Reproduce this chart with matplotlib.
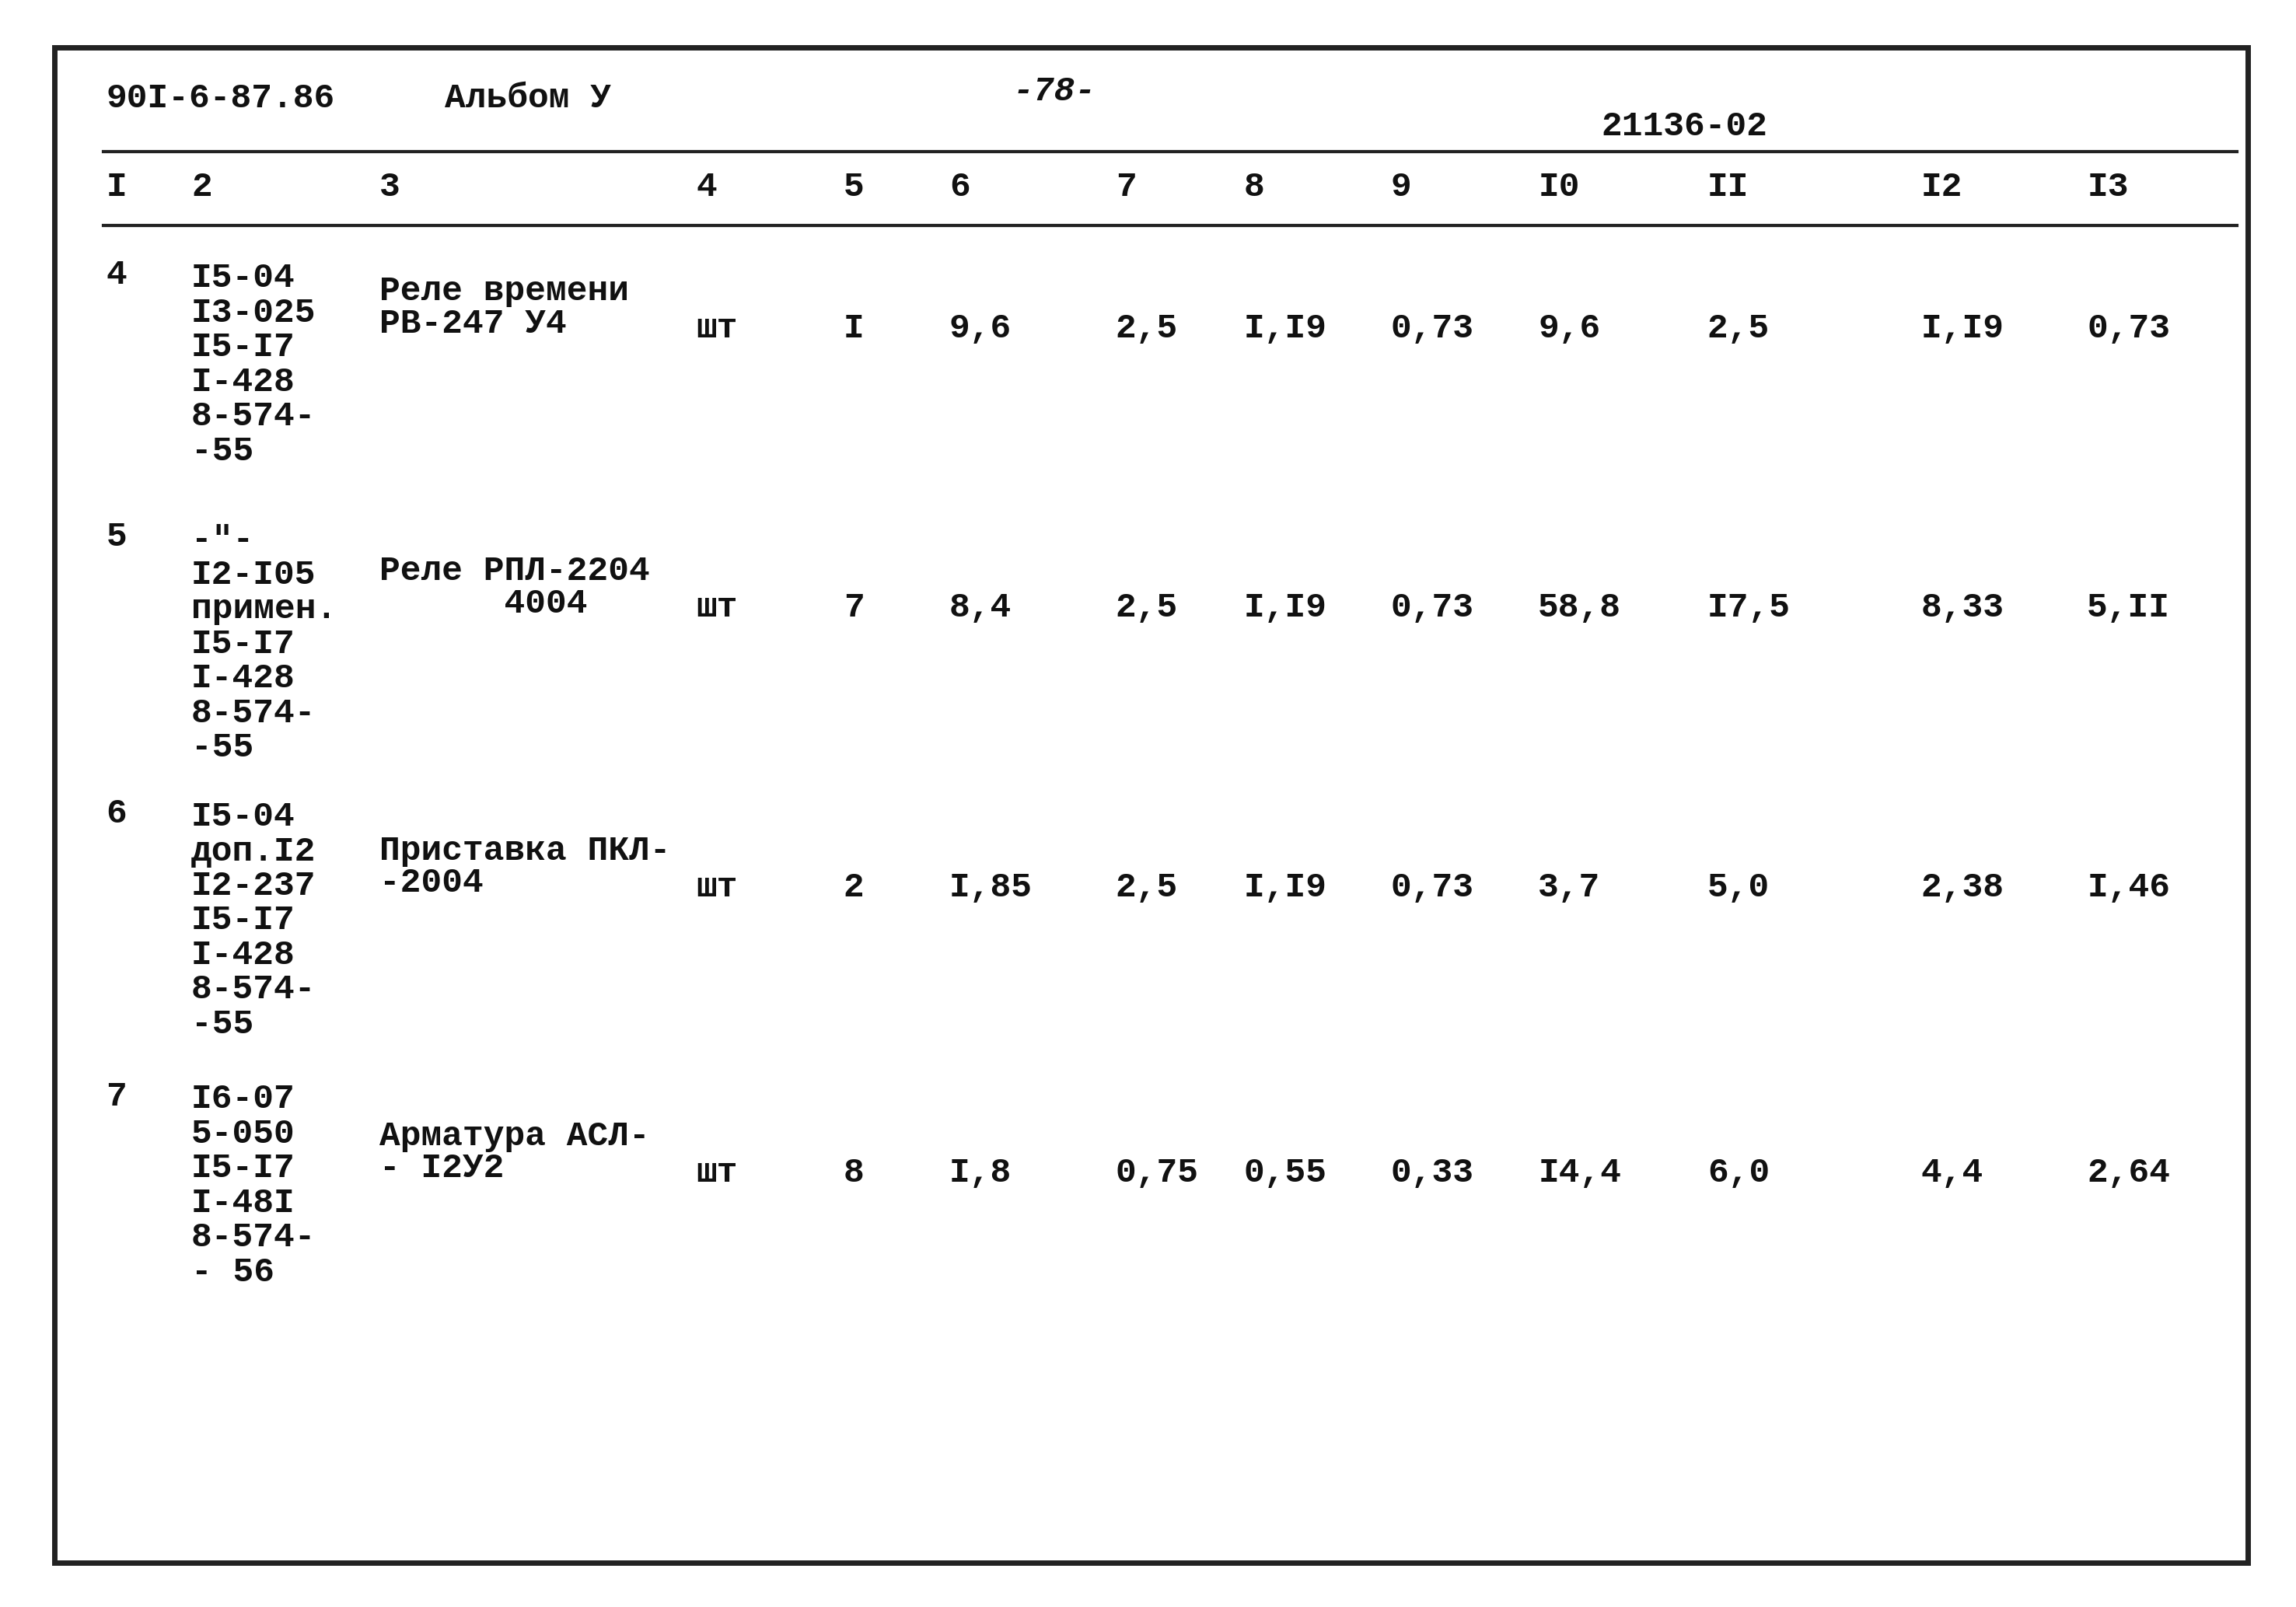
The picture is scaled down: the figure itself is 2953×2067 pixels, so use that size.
import matplotlib.pyplot as plt
from matplotlib.patches import Rectangle

# Table data
row_nums = ['4', '5', '6', '7']
codes = [
    ['I5-04', 'I3-025', 'I5-I7', 'I-428', '8-574-', '-55'],
    ['-"-', 'I2-I05', 'примен.', 'I5-I7', 'I-428', '8-574-', '-55'],
    ['I5-04', 'доп.I2', 'I2-237', 'I5-I7', 'I-428', '8-574-', '-55'],
    ['I6-07', '5-050', 'I5-I7', 'I-48I', '8-574-', '- 56'],
]
names = [
    ['Реле времени', 'РВ-247 У4'],
    ['Реле РПЛ-2204', '      4004'],
    ['Приставка ПКЛ-', '-2004'],
    ['Арматура АСЛ-', '- I2У2'],
]
units = ['шт', 'шт', 'шт', 'шт']
qty = ['I', '7', '2', '8']
col6 = ['9,6', '8,4', 'I,85', 'I,8']
col7 = ['2,5', '2,5', '2,5', '0,75']
col8 = ['I,I9', 'I,I9', 'I,I9', '0,55']
col9 = ['0,73', '0,73', '0,73', '0,33']
col10 = ['9,6', '58,8', '3,7', 'I4,4']
col11 = ['2,5', 'I7,5', '5,0', '6,0']
col12 = ['I,I9', '8,33', '2,38', '4,4']
col13 = ['0,73', '5,II', 'I,46', '2,64']
headers = ['I', '2', '3', '4', '5', '6', '7', '8', '9', 'I0', 'II', 'I2', 'I3']

W, H = 1560, 1092
col_x = [72, 130, 258, 473, 573, 645, 758, 845, 945, 1045, 1160, 1305, 1418]
row_top = [187, 365, 553, 745]
row_val = [223, 413, 603, 797]

fig = plt.figure(figsize=(29.53, 20.67), dpi=100)
ax = fig.add_axes([0, 0, 1, 1])
ax.set_xlim(0, W)
ax.set_ylim(H, 0)
ax.axis('off')

ax.add_patch(Rectangle((37, 32), 1490, 1030, fill=False, lw=5, ec='#222'))
ax.plot([70, 1520], [103, 103], color='#222', lw=3)
ax.plot([70, 1520], [153, 153], color='#222', lw=3)

font = dict(family='Liberation Mono', fontsize=32, color='#111', va='center',
            fontweight='bold')

ax.text(72, 67, '90I-6-87.86', **font)
ax.text(302, 67, 'Альбом У', **font)
ax.text(688, 62, '-78-', fontstyle='italic', **font)
ax.text(1088, 86, '21136-02', **font)

for x, h in zip(col_x, headers):
    ax.text(x, 127, h, **font)

cols = [units, qty, col6, col7, col8, col9, col10, col11, col12, col13]
for i in range(len(row_nums)):
    ax.text(col_x[0], row_top[i], row_nums[i], **font)
    for k, s in enumerate(codes[i]):
        ax.text(col_x[1], row_top[i] + 2 + k * 23.5, s, **font)
    nm_y = row_val[i] - 25
    for k, s in enumerate(names[i]):
        ax.text(col_x[2], nm_y + k * 22, s, **font)
    for j, c in enumerate(cols):
        ax.text(col_x[3 + j], row_val[i], c[i], **font)

fig.savefig('out.png', dpi=100, facecolor='white')
